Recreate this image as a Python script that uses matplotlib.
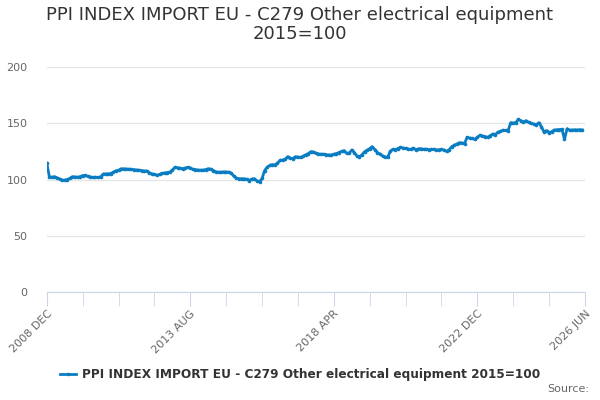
"""PPI index import EU - C279 other electrical equipment."""

import matplotlib
matplotlib.use('Agg')
import matplotlib.pyplot as plt
import numpy as np


# ================================ DATA ======================================

# monthly values from 2008 DEC onwards
values = [
    114.5, 102.5, 102.0, 102.5, 101.5, 100.5, 99.2, 99.5, 100.0, 101.0, 102.5, 102.3,
    102.0, 102.5, 103.5, 103.6, 102.8, 102.3, 101.8, 102.0, 101.8, 102.3, 104.8, 105.0,
    105.0, 105.3, 106.5, 107.8, 108.2, 109.5, 109.5, 109.3, 109.2, 109.0, 108.8, 108.5,
    108.2, 108.0, 107.5, 107.6, 106.0, 105.0, 104.5, 103.8, 104.5, 105.5, 105.8, 106.2,
    106.6, 108.5, 110.8, 110.5, 110.0, 109.6, 110.2, 110.8, 110.3, 109.0, 108.8, 108.4,
    108.3, 108.3, 108.8, 109.6, 109.2, 108.0, 106.8, 106.5, 106.5, 106.8, 106.6, 106.6,
    105.5, 103.0, 101.2, 100.7, 100.7, 100.6, 100.2, 99.0, 100.5, 100.7, 98.8, 97.8,
    101.0, 108.0, 111.0, 112.5, 113.2, 113.0, 114.5, 117.0, 117.3, 118.0, 120.3, 119.0,
    118.5, 120.3, 120.0, 119.7, 120.5, 122.0, 123.0, 124.7, 124.5, 123.5, 122.7, 122.5,
    122.5, 122.0, 121.8, 121.8, 122.5, 123.0, 124.0, 125.0, 125.6, 123.3, 123.5, 126.2,
    124.0, 121.0, 120.3, 122.0, 124.7, 126.0, 127.5, 129.2, 126.5, 124.0, 122.7, 121.0,
    120.0, 119.7, 125.0, 126.8, 126.5, 127.5, 128.6, 128.0, 127.6, 127.0, 126.8, 127.8,
    126.5, 127.2, 127.4, 126.8, 127.0, 126.5, 126.8, 126.8, 126.2, 126.5, 126.8, 126.2,
    125.0, 126.5, 129.2, 130.5, 131.5, 132.7, 132.5, 132.0, 137.5, 136.8, 136.5, 135.7,
    137.5, 139.3, 138.8, 138.2, 137.5, 139.0, 140.4, 140.0, 142.0, 142.8, 143.8, 143.6,
    143.4, 150.5, 150.2, 150.5, 153.5, 152.2, 151.0, 152.3, 150.8, 149.8, 149.3, 148.8,
    150.5, 147.0, 142.2, 143.5, 141.6, 142.5, 144.0, 144.2, 144.4, 144.6, 135.7, 145.2,
    143.8, 144.0, 144.2, 144.0, 144.3, 144.0,
]

tick_labels = ['2008 DEC', '2013 AUG', '2018 APR', '2022 DEC', '2026 JUN']
tick_months = [0, 56, 112, 168, 210]

series_name = 'PPI INDEX IMPORT EU - C279 Other electrical equipment 2015=100'


# ================================ PLOT ======================================

line_color = '#0a7dc2'
axis_color = '#ccd6eb'
grid_color = '#e6e6e6'

fig = plt.figure(figsize=(6, 4), dpi=100)
ax = fig.add_axes([0.078, 0.27, 0.897, 0.5625])

xx = np.arange(len(values))
ax.plot(xx, values, color=line_color, lw=2, marker='o', ms=2.6,
        markeredgewidth=0, label=series_name, zorder=3)

ax.set_xlim(0, 210)
ax.set_ylim(0, 200)
ax.set_yticks([0, 50, 100, 150, 200])
ax.yaxis.grid(True, color=grid_color, lw=1)
ax.set_axisbelow(True)

ax.set_xticks(tick_months)
ax.set_xticklabels(tick_labels, rotation=45, ha='right', rotation_mode='anchor')
ax.set_xticks(np.arange(0, 211, 14), minor=True)

for side in ('left', 'right', 'top'):
    ax.spines[side].set_visible(False)
ax.spines['bottom'].set_color(axis_color)

ax.tick_params(axis='y', length=0, labelsize=8, labelcolor='#666666', pad=14)
ax.tick_params(axis='x', which='both', length=10, color=axis_color,
               labelsize=8, labelcolor='#666666', pad=2)

fig.suptitle('PPI INDEX IMPORT EU - C279 Other electrical equipment\n2015=100',
             x=0.5, y=0.985, fontsize=13, color='#333333', linespacing=1.1)

ax.legend(loc='center', bbox_to_anchor=(0.5, 0.063), bbox_transform=fig.transFigure,
          frameon=False, prop={'size': 8.7, 'weight': 'bold'}, handlelength=1.3,
          labelcolor='#333333', handletextpad=0.5)

fig.text(0.982, 0.027, 'Source:', ha='right', va='center', fontsize=8, color='#666666')

fig.savefig('out.png', dpi=100)
